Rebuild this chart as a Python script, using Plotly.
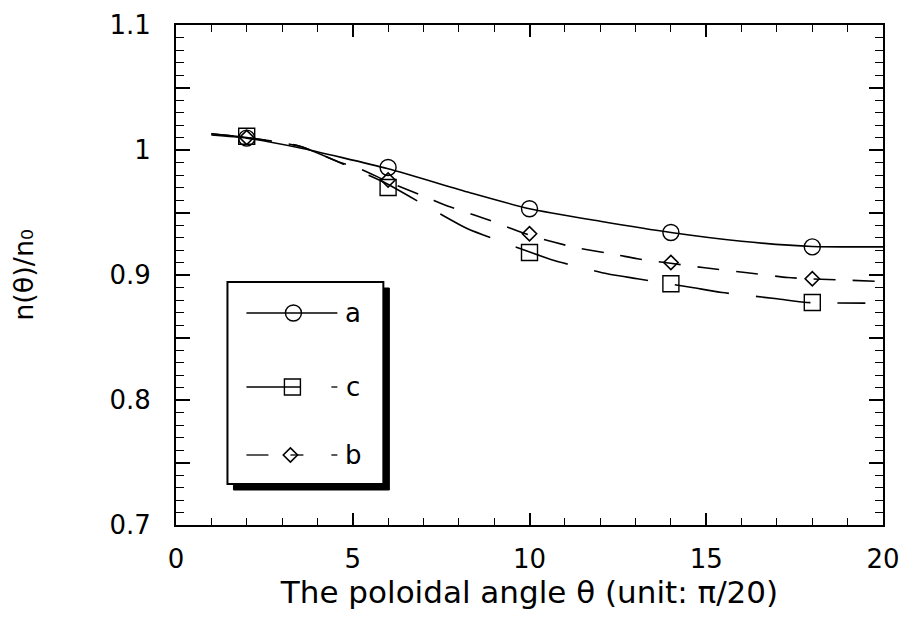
import plotly.graph_objects as go

# ---- data ----
pts_x = [2, 6, 10, 14, 18]
a_pts = [1.0095, 0.986, 0.953, 0.934, 0.9225]
c_pts = [1.011, 0.970, 0.918, 0.893, 0.878]
b_pts = [1.010, 0.976, 0.933, 0.910, 0.897]

a_cx = [1.0, 2.0, 3.45, 6.0, 8.3, 10.0, 12.0, 14.0, 16.0, 18.0, 20.0]
a_cy = [1.012, 1.0095, 1.002, 0.985, 0.966, 0.953, 0.943, 0.934, 0.927, 0.9228, 0.9225]

c_cx = [1.0, 2.0, 3.5, 4.95, 5.9, 7.4, 8.25, 9.75, 10.65, 12.2, 13.05, 14.6, 15.45, 17.0, 17.85, 19.5]
c_cy = [1.013, 1.010, 1.003, 0.986, 0.974, 0.950, 0.937, 0.921, 0.912, 0.901, 0.897, 0.890, 0.886, 0.881, 0.878, 0.8775]

b_cx = [1.0, 2.0, 3.5, 4.65, 5.2, 6.05, 7.1, 7.7, 8.85, 9.5, 10.2, 11.3, 12.5, 13.05, 14.9, 16.1, 17.3, 17.9, 19.8]
b_cy = [1.013, 1.010, 1.003, 0.990, 0.985, 0.974, 0.962, 0.955, 0.944, 0.937, 0.930, 0.922, 0.916, 0.913, 0.906, 0.902, 0.898, 0.897, 0.895]

legend_labels = ["a", "c", "b"]
x_ticks = [0, 5, 10, 15, 20]
y_label_vals = [0.7, 0.8, 0.9, 1.0, 1.1]
y_label_text = ["0.7", "0.8", "0.9", "1", "1.1"]
y_mid_vals = [0.75, 0.85, 0.95, 1.05]

# ---- layout geometry (pixels) ----
W, H = 901, 620
L, R, T, B = 175.5, 883.0, 25.0, 525.0
XR = (0, 20)
YR = (0.7, 1.1)
FONT = "DejaVu Sans"
BLACK = "#000000"


def px(x):
    return (x - L) / (R - L)


def py(y):
    return (B - y) / (B - T)


def dx(x):  # pixel -> data x (legend placement only)
    return XR[0] + px(x) * (XR[1] - XR[0])


def dy(y):  # pixel -> data y (legend placement only)
    return YR[0] + py(y) * (YR[1] - YR[0])


fig = go.Figure()

# curves
fig.add_trace(go.Scatter(x=a_cx, y=a_cy, mode="lines", line=dict(color=BLACK, width=1.6, shape="spline", smoothing=0.6),
                         showlegend=False, hoverinfo="skip"))
fig.add_trace(go.Scatter(x=c_cx, y=c_cy, mode="lines", line=dict(color=BLACK, width=1.6, dash="55px,27px", shape="spline", smoothing=0.6),
                         showlegend=False, hoverinfo="skip"))
fig.add_trace(go.Scatter(x=b_cx, y=b_cy, mode="lines", line=dict(color=BLACK, width=1.6, dash="22px,17px", shape="spline", smoothing=0.6),
                         showlegend=False, hoverinfo="skip"))

# points
fig.add_trace(go.Scatter(x=pts_x, y=a_pts, mode="markers", name=legend_labels[0],
                         marker=dict(symbol="circle-open", size=16, color=BLACK, line=dict(width=1.4)), showlegend=False))
fig.add_trace(go.Scatter(x=pts_x, y=c_pts, mode="markers", name=legend_labels[1],
                         marker=dict(symbol="square-open", size=16, color=BLACK, line=dict(width=1.4)), showlegend=False))
fig.add_trace(go.Scatter(x=pts_x, y=b_pts, mode="markers", name=legend_labels[2],
                         marker=dict(symbol="diamond-open", size=11, color=BLACK, line=dict(width=1.6)), showlegend=False))

# ---- hand-drawn legend box ----
shapes = []
bx0, by0, bx1, by1 = 227, 282, 383, 484
sh = 6
shapes.append(dict(type="rect", xref="paper", yref="paper", layer="below",
                   x0=px(bx0 + sh), x1=px(bx1 + sh), y0=py(by1 + sh), y1=py(by0 + sh),
                   fillcolor=BLACK, line=dict(color=BLACK, width=1)))
shapes.append(dict(type="rect", xref="paper", yref="paper", layer="below",
                   x0=px(bx0), x1=px(bx1), y0=py(by1), y1=py(by0),
                   fillcolor="white", line=dict(color=BLACK, width=2)))

row_y = [313, 387, 455]
seg = [
    (246, 337, row_y[0]),
    (246, 300, row_y[1]), (331, 337, row_y[1]),
    (246, 268, row_y[2]), (290, 303, row_y[2]), (331, 337, row_y[2]),
]
for x0, x1, yy in seg:
    shapes.append(dict(type="line", xref="paper", yref="paper", x0=px(x0), x1=px(x1), y0=py(yy), y1=py(yy),
                       line=dict(color=BLACK, width=1.3)))

# legend sample markers
fig.add_trace(go.Scatter(x=[dx(293)], y=[dy(row_y[0])], mode="markers", hoverinfo="skip", showlegend=False,
                         marker=dict(symbol="circle", size=16, color="white", line=dict(color=BLACK, width=1.4))))
fig.add_trace(go.Scatter(x=[dx(292)], y=[dy(row_y[1])], mode="markers", hoverinfo="skip", showlegend=False,
                         marker=dict(symbol="square-open", size=16, color=BLACK, line=dict(width=1.4))))
fig.add_trace(go.Scatter(x=[dx(290)], y=[dy(row_y[2])], mode="markers", hoverinfo="skip", showlegend=False,
                         marker=dict(symbol="diamond", size=11, color="white", line=dict(color=BLACK, width=1.6))))

annotations = []
for lab, yy in zip(legend_labels, row_y):
    annotations.append(dict(x=px(353), y=py(yy), xref="paper", yref="paper", text=lab, showarrow=False,
                            font=dict(family=FONT, size=26, color=BLACK), xanchor="center", yanchor="middle"))

fig.update_layout(
    width=W, height=H,
    margin=dict(l=L, r=W - R, t=T, b=H - B, autoexpand=False),
    paper_bgcolor="white", plot_bgcolor="white",
    shapes=shapes, annotations=annotations,
    font=dict(family=FONT, size=26, color=BLACK),
    xaxis=dict(range=list(XR), tickvals=x_ticks, ticks="inside", ticklen=12, tickwidth=1.5, tickcolor=BLACK,
               showline=True, linecolor=BLACK, linewidth=2, mirror="ticks", showgrid=False, zeroline=False,
               ticklabelstandoff=10, automargin=False,
               minor=dict(dtick=1, ticks="inside", ticklen=7, tickwidth=1.3, tickcolor=BLACK, showgrid=False),
               title=dict(text="The poloidal angle θ (unit: π/20)", font=dict(family=FONT, size=31), standoff=5)),
    yaxis=dict(range=list(YR), tickvals=y_label_vals, ticktext=y_label_text, ticks="inside", ticklen=14, tickwidth=1.5,
               tickcolor=BLACK, showline=True, linecolor=BLACK, linewidth=2, mirror="ticks", showgrid=False,
               zeroline=False, ticklabelstandoff=18, automargin=False,
               minor=dict(dtick=0.01, tick0=0.7, ticks="inside", ticklen=8, tickwidth=1.3, tickcolor=BLACK, showgrid=False),
               title=dict(text="n(θ)/n₀", font=dict(family=FONT, size=27), standoff=68)),
    yaxis3=dict(overlaying="y", anchor="x", range=list(YR), tickvals=y_mid_vals, showticklabels=False,
                ticks="inside", ticklen=14, tickwidth=1.5, tickcolor=BLACK, mirror="ticks", showline=False,
                showgrid=False, zeroline=False, automargin=False),
)
# invisible anchor trace so the mid-tick axis is drawn
fig.add_trace(go.Scatter(x=[None], y=[None], yaxis="y3", showlegend=False, hoverinfo="skip"))

fig.write_html("out.html")
